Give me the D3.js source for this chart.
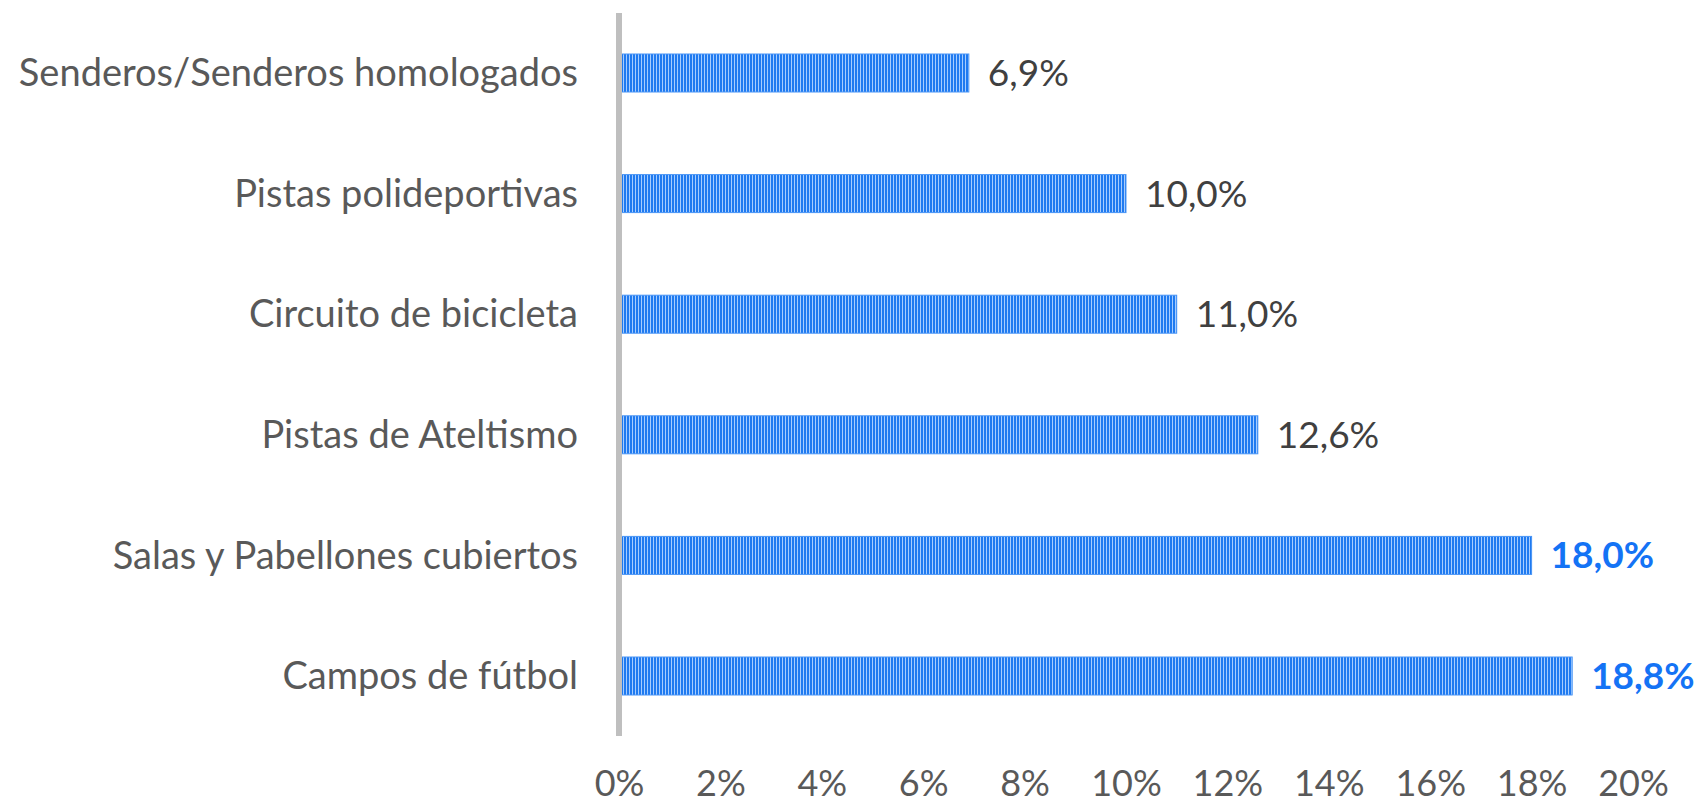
<!DOCTYPE html>
<html>
<head>
<meta charset="utf-8">
<script src="https://cdn.jsdelivr.net/npm/d3@7"></script>
<style>
  body { margin: 0; background: #fff; }
  svg text { font-family: Lato, "Open Sans", sans-serif; }
</style>
</head>
<body>
<svg width="1701" height="806"></svg>
<script>
const categories = ["Senderos/Senderos homologados", "Pistas polideportivas", "Circuito de bicicleta",
  "Pistas de Ateltismo", "Salas y Pabellones cubiertos", "Campos de fútbol"];
const values = [6.9, 10.0, 11.0, 12.6, 18.0, 18.8];
const highlighted = [false, false, false, false, true, true];
const ticks = [0, 2, 4, 6, 8, 10, 12, 14, 16, 18, 20];

var svg = d3.select("svg");

// plot area
var plotLeft = 619, plotRight = 1633, plotTop = 13, plotBottom = 736;

var x = d3.scaleLinear().domain([0, 20]).range([plotLeft, plotRight]);
var y = d3.scaleBand().domain(categories).range([plotTop, plotBottom]).paddingInner(0.685).paddingOuter(0.34);

// striped fill like the Excel "dark vertical" pattern
var defs = svg.append("defs");
var pat = defs.append("pattern")
    .attr("id", "stripes")
    .attr("patternUnits", "userSpaceOnUse")
    .attr("width", 3).attr("height", 10);
pat.append("rect").attr("width", 3).attr("height", 10).attr("fill", "#a6cdff");
pat.append("rect").attr("width", 2).attr("height", 10).attr("fill", "#1f7af0");

// bars
svg.selectAll("rect.bar")
    .data(values)
    .enter()
    .append("rect")
    .attr("class", "bar")
    .attr("x", x(0))
    .attr("y", (d, i) => y(categories[i]))
    .attr("width", d => x(d) - x(0))
    .attr("height", y.bandwidth())
    .attr("fill", "url(#stripes)")
    .attr("stroke", "#4a95f5")
    .attr("stroke-width", 1);

// vertical axis line
svg.append("line")
    .attr("x1", x(0)).attr("x2", x(0))
    .attr("y1", plotTop).attr("y2", plotBottom)
    .attr("stroke", "#bfbfbf")
    .attr("stroke-width", 6);

// category labels
svg.selectAll("text.cat")
    .data(categories)
    .enter()
    .append("text")
    .attr("class", "cat")
    .attr("x", x(0) - 41)
    .attr("y", d => y(d) + y.bandwidth() / 2)
    .attr("dy", "0.35em")
    .attr("text-anchor", "end")
    .attr("fill", "#595959")
    .attr("font-size", 38)
    .text(d => d);

// value labels
svg.selectAll("text.val")
    .data(values)
    .enter()
    .append("text")
    .attr("class", "val")
    .attr("x", d => x(d) + 19)
    .attr("y", (d, i) => y(categories[i]) + y.bandwidth() / 2)
    .attr("dy", "0.35em")
    .attr("fill", (d, i) => highlighted[i] ? "#1473f5" : "#404040")
    .attr("font-weight", (d, i) => highlighted[i] ? "bold" : "normal")
    .attr("font-size", 37)
    .text(d => d.toFixed(1).replace(".", ",") + "%");

// x axis tick labels
var xAxis = d3.axisBottom(x)
    .tickValues(ticks)
    .tickSize(0)
    .tickFormat(d => d + "%");

var gx = svg.append("g")
    .attr("transform", "translate(0," + 767 + ")")
    .call(xAxis);
gx.select(".domain").remove();
gx.selectAll("text")
    .attr("font-family", "Lato, 'Open Sans', sans-serif")
    .attr("font-size", 36)
    .attr("fill", "#595959");
</script>
</body>
</html>
